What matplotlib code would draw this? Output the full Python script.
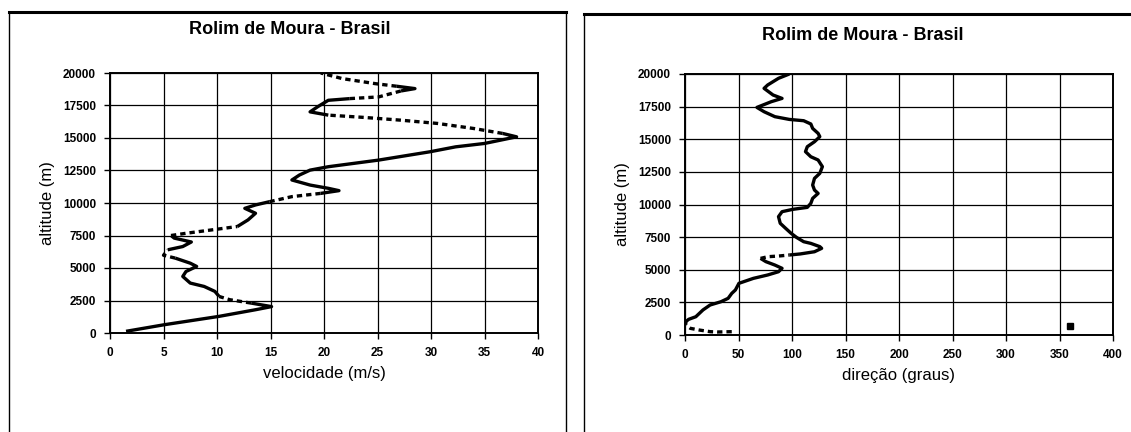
import matplotlib
matplotlib.use('Agg')
import matplotlib.pyplot as plt
from matplotlib.lines import Line2D

plt.rcParams['font.family'] = ['Liberation Sans', 'DejaVu Sans']

# perfil de velocidade (m/s) x altitude (m)
vel = [1.5, 5.1, 10.2, 13.6, 15.1, 13.2, 11.2, 10.2, 9.8, 8.8,
       7.5, 6.8, 7.1, 8.1, 7.5, 6.1, 5.0, 5.4, 6.8, 7.6,
       6.0, 5.7, 7.1, 9.5, 11.9, 12.9, 13.6, 12.6, 13.6, 14.9,
       17.0, 19.7, 21.4, 20.4, 18.7, 17.0, 17.7, 18.7, 20.4, 25.1,
       29.9, 32.3, 35.0, 38.0, 36.7, 34.0, 30.6, 27.2, 23.8, 20.4,
       18.7, 19.4, 20.4, 22.4, 25.1, 27.2, 28.5, 26.8, 24.8, 21.7, 19.7]
alt_vel = [130, 640, 1280, 1790, 2030, 2300, 2560, 2810, 3200, 3580,
           3840, 4350, 4730, 5120, 5370, 5760, 5980, 6400, 6650, 7000,
           7300, 7500, 7670, 7930, 8190, 8700, 9210, 9590, 9850, 10100,
           10490, 10740, 10950, 11130, 11380, 11770, 12150, 12530, 12790, 13300,
           13940, 14320, 14580, 15090, 15350, 15730, 16120, 16370, 16580, 16760,
           17010, 17400, 17900, 18030, 18160, 18620, 18800, 18980, 19180, 19570, 20000]

# perfil de direcao (graus) x altitude (m)
dirc = [43.7, 30.0, 23.5, 13.4, 5.0, 0.7, 0.7, 3.4, 10.1, 16.8,
        23.5, 33.6, 40.3, 43.7, 47.1, 50.4, 63.9, 77.3, 87.4, 90.7,
        84.0, 75.6, 70.6, 77.3, 87.4, 97.5, 107.6, 121.0, 127.7, 126.0,
        117.6, 110.9, 104.2, 99.2, 94.1, 89.0, 87.4, 90.7, 100.8, 114.3,
        117.6, 119.3, 124.4, 121.0, 119.3, 121.0, 126.0, 128.4, 124.4, 117.6,
        112.6, 114.3, 121.0, 126.0, 124.4, 119.3, 117.6, 110.9, 97.5, 84.0,
        73.9, 67.2, 70.6, 80.7, 90.7, 82.3, 73.9, 77.3, 87.4, 97.5]
alt_dir = [255, 230, 255, 380, 510, 770, 1020, 1200, 1400, 1920,
           2300, 2550, 2810, 3190, 3450, 3960, 4340, 4600, 4850, 5110,
           5360, 5620, 5870, 6000, 6050, 6130, 6210, 6380, 6640, 6770,
           7020, 7150, 7480, 7790, 8170, 8560, 9070, 9450, 9630, 9780,
           10090, 10470, 10850, 11110, 11490, 12000, 12390, 12900, 13410, 13660,
           14050, 14430, 14810, 15200, 15450, 15830, 16170, 16420, 16520, 16730,
           17110, 17440, 17550, 17880, 18130, 18390, 18900, 19160, 19670, 20000]

# ponto isolado no grafico de direcao
dir_isolado = [360]
alt_isolado = [700]

xt_vel = [0, 5, 10, 15, 20, 25, 30, 35, 40]
xt_dir = [0, 50, 100, 150, 200, 250, 300, 350, 400]
yt = [0, 2500, 5000, 7500, 10000, 12500, 15000, 17500, 20000]

titulo = 'Rolim de Moura - Brasil'

# trechos tracejados (indices) de cada curva
trechos_vel = [(0, 5, '-'), (5, 7, '--'), (7, 15, '-'), (15, 17, '--'), (17, 21, '-'),
               (21, 24, '--'), (24, 29, '-'), (29, 31, '--'), (31, 44, '-'),
               (44, 49, '--'), (49, 53, '-'), (53, 55, '--'), (55, 57, '-'), (57, 60, '--')]
trechos_dir = [(0, 6, '--'), (6, 22, '-'), (22, 25, '--'), (25, 69, '-')]

W, H = 1131, 432
fig = plt.figure(figsize=(W / 100, H / 100), dpi=100)


def desenha(ax, x, y, trechos, xlim, xticks, xlabel):
    ax.set_axisbelow(True)
    for i0, i1, ls in trechos:
        if ls == '-':
            ax.plot(x[i0:i1 + 1], y[i0:i1 + 1], color='black', lw=2.4,
                    solid_capstyle='butt')
        else:
            ax.plot(x[i0:i1 + 1], y[i0:i1 + 1], color='black', lw=2.4,
                    dashes=(1.6, 1.2))
    ax.set_xlim(*xlim)
    ax.set_ylim(0, 20000)
    ax.set_xticks(xticks)
    ax.set_yticks(yt)
    ax.grid(True, color='black', lw=0.9)
    for s in ax.spines.values():
        s.set_linewidth(1.4)
    ax.tick_params(direction='out', length=4, width=1, pad=6)
    for lb in ax.get_xticklabels() + ax.get_yticklabels():
        lb.set_fontsize(8.5)
        lb.set_fontweight('bold')
    ax.set_xlabel(xlabel, fontsize=12, labelpad=5)
    ax.set_ylabel('altitude (m)', fontsize=12, labelpad=6)


ax1 = fig.add_axes([110 / W, 99 / H, 428 / W, 260 / H])
desenha(ax1, vel, alt_vel, trechos_vel, (0, 40), xt_vel, 'velocidade (m/s)')

ax2 = fig.add_axes([685 / W, 97 / H, 428 / W, 261 / H])
desenha(ax2, dirc, alt_dir, trechos_dir, (0, 400), xt_dir, 'direção (graus)')
ax2.plot(dir_isolado, alt_isolado, 's', color='black', ms=4)

fig.text(290 / W, 1 - 30 / H, titulo, ha='center', va='center',
         fontsize=13, fontweight='bold')
fig.text(863 / W, 1 - 35 / H, titulo, ha='center', va='center',
         fontsize=13, fontweight='bold')

# molduras dos dois graficos
def linha(x0, y0, x1, y1, lw):
    fig.add_artist(Line2D([x0 / W, x1 / W], [1 - y0 / H, 1 - y1 / H],
                          color='black', lw=lw))

linha(9, 12, 566, 12, 2.2)
linha(9, 12, 9, 432, 1.0)
linha(566, 12, 566, 432, 1.0)
linha(584, 14, 1131, 14, 2.2)
linha(584, 14, 584, 432, 1.0)

fig.savefig('out.png', dpi=100)
